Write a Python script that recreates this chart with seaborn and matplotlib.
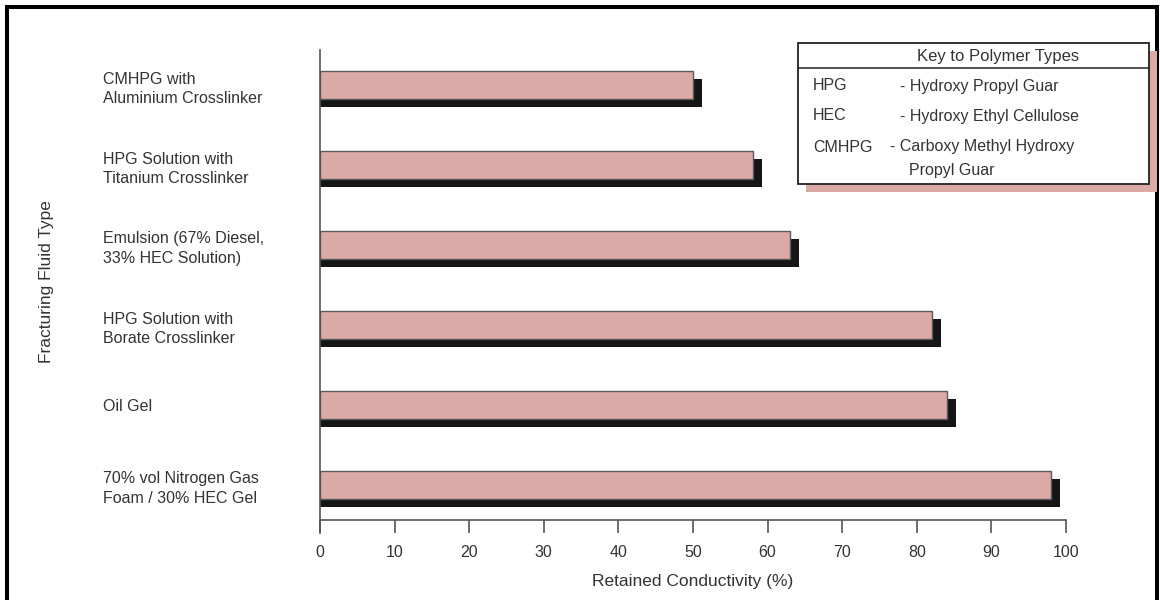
import matplotlib
matplotlib.use("Agg")
import matplotlib.pyplot as plt
import seaborn as sns
import numpy as np
import pandas as pd
from matplotlib.patches import Rectangle
from matplotlib.lines import Line2D

# ---- data ----
fluid_types = [
    "CMHPG with\nAluminium Crosslinker",
    "HPG Solution with\nTitanium Crosslinker",
    "Emulsion (67% Diesel,\n33% HEC Solution)",
    "HPG Solution with\nBorate Crosslinker",
    "Oil Gel",
    "70% vol Nitrogen Gas\nFoam / 30% HEC Gel",
]
retained_conductivity = [50, 58, 63, 82, 84, 98]
x_ticks = [0, 10, 20, 30, 40, 50, 60, 70, 80, 90, 100]
key_title = "Key to Polymer Types"
key_abbr = ["HPG", "HEC", "CMHPG"]
key_names = ["- Hydroxy Propyl Guar", "- Hydroxy Ethyl Cellulose",
             "- Carboxy Methyl Hydroxy\nPropyl Guar"]

df = pd.DataFrame({"fluid": fluid_types, "value": retained_conductivity})

sns.set_theme(style="white")
plt.rcParams["font.family"] = ["Liberation Sans", "DejaVu Sans"]
TXT = "#333333"
PINK = "#dcaaa6"

W, H = 1160, 600
fig = plt.figure(figsize=(W / 100, H / 100), dpi=100)
ax = fig.add_axes([320 / W, 1 - 520 / H, (1066 - 320) / W, (520 - 50) / H])

# shadow bars (offset right and down)
pos = np.arange(len(fluid_types))
ax.barh(pos + 0.1, np.array(retained_conductivity) + 1.2, height=0.34,
        left=0, color="#151515", edgecolor="none", zorder=1)

# main bars via seaborn
sns.barplot(data=df, x="value", y="fluid", orient="h", ax=ax, color=PINK,
            saturation=1, width=0.34, edgecolor="#5a5a5a", linewidth=1.0,
            zorder=2)

ax.set_xlim(0, 100)
ax.set_ylim(5.4375, -0.4375)
ax.set_xticks(x_ticks)
ax.set_xticklabels([str(t) for t in x_ticks], fontsize=11.5, color=TXT)
ax.tick_params(axis="x", direction="out", length=9.5, width=1.2,
               color="#555555", pad=8.5, bottom=True)
ax.tick_params(axis="y", length=0, pad=156)
ax.set_yticks(pos)
ax.set_yticklabels(fluid_types, fontsize=11.5, color=TXT, ha="left",
                   linespacing=1.4)
ax.set_ylabel("")
ax.set_xlabel("Retained Conductivity (%)", fontsize=12.5, color=TXT,
              labelpad=10)
for s in ["top", "right"]:
    ax.spines[s].set_visible(False)
ax.spines["left"].set_color("#555555")
ax.spines["left"].set_linewidth(1.2)
ax.spines["left"].set_bounds(5.6, -0.4375)
ax.spines["bottom"].set_color("#555555")
ax.spines["bottom"].set_linewidth(1.2)

fig.text(47 / W, 1 - 282 / H, "Fracturing Fluid Type", rotation=90,
         ha="center", va="center", fontsize=12.5, color=TXT)


def fx(x):
    return x / W


def fy(y):
    return 1 - y / H


# key box with shadow
bx0, by0, bx1, by1 = 798, 43, 1149, 184
fig.add_artist(Rectangle((fx(bx0 + 8), fy(by1 + 8)), fx(bx1 - bx0), (by1 - by0) / H,
                         transform=fig.transFigure, facecolor=PINK,
                         edgecolor="none", zorder=3))
fig.add_artist(Rectangle((fx(bx0), fy(by1)), fx(bx1 - bx0), (by1 - by0) / H,
                         transform=fig.transFigure, facecolor="white",
                         edgecolor="#222222", linewidth=1.3, zorder=4))
fig.add_artist(Line2D([fx(bx0), fx(bx1)], [fy(68), fy(68)],
                      transform=fig.transFigure, color="#222222",
                      linewidth=1.1, zorder=5))
fig.text(fx(998), fy(57), key_title, ha="center", va="center",
         fontsize=12, color=TXT, zorder=6)
rows_y = [86, 116, 147]
name_x = [900, 900, 890]
for a, n, yy, nx in zip(key_abbr, key_names, rows_y, name_x):
    fig.text(fx(813), fy(yy), a, ha="left", va="center", fontsize=11.5,
             color=TXT, zorder=6)
    if "\n" in n:
        first, second = n.split("\n")
        fig.text(fx(nx), fy(yy), first, ha="left", va="center",
                 fontsize=11.5, color=TXT, zorder=6)
        fig.text(fx(nx + 19), fy(170), second, ha="left", va="center",
                 fontsize=11.5, color=TXT, zorder=6)
    else:
        fig.text(fx(nx), fy(yy), n, ha="left", va="center",
                 fontsize=11.5, color=TXT, zorder=6)

# outer black frame (left, top, right)
for xs, ys in [([7, 7], [7, 600]), ([5, 1159], [7, 7]), ([1157, 1157], [7, 600])]:
    fig.add_artist(Line2D([fx(x) for x in xs], [fy(y) for y in ys],
                          transform=fig.transFigure, color="black",
                          linewidth=2.9, solid_capstyle="butt"))

fig.savefig("out.png", dpi=100, facecolor="white")
